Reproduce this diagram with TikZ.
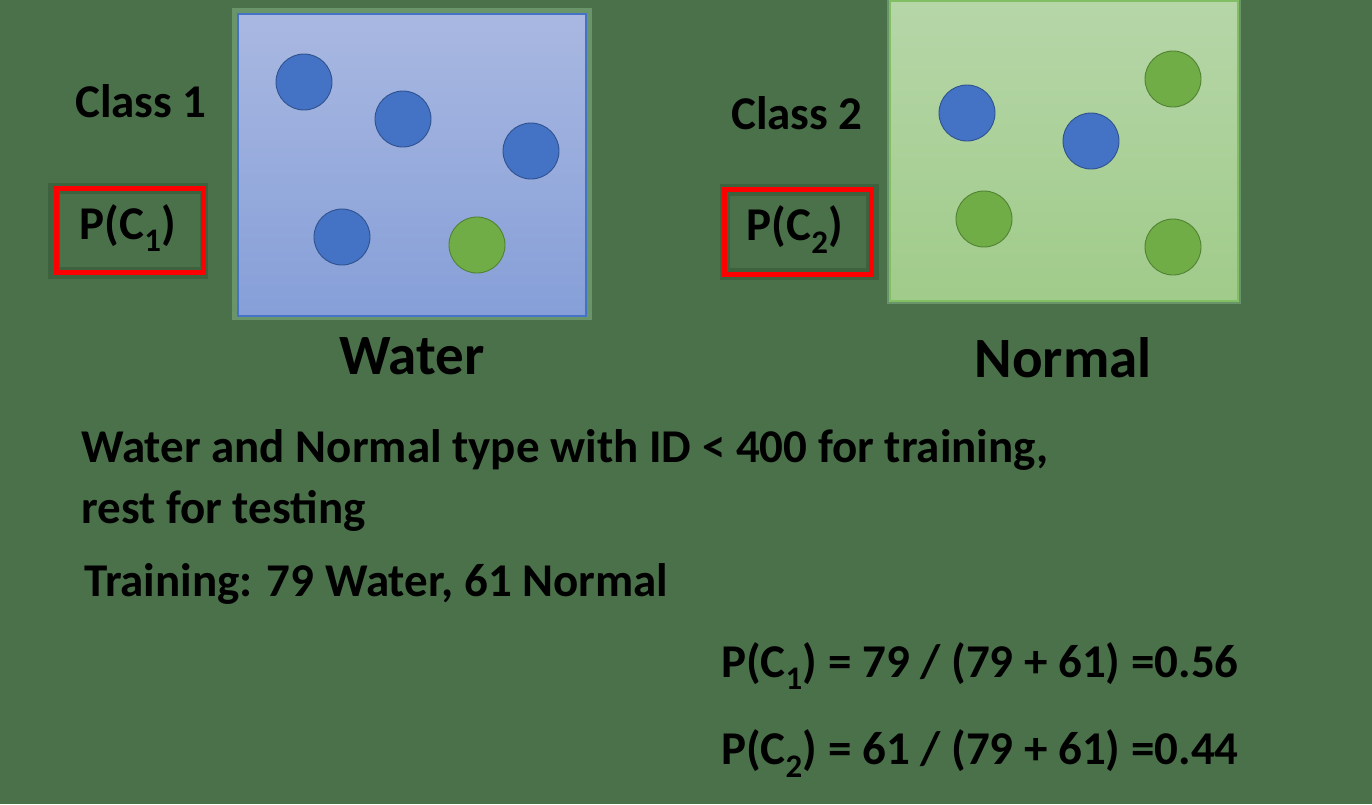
\documentclass[tikz,border=0pt]{standalone}
\usepackage{fontspec}
\setmainfont{Carlito}
\begin{document}
\begin{tikzpicture}[x=1pt,y=-1pt,
  lbl/.style={font=\bfseries\fontsize{#1}{#1}\selectfont, text=black, inner sep=0pt},
  bluedot/.style={circle, minimum size=56pt, inner sep=0pt, fill={rgb,255:red,68;green,114;blue,196}, draw={rgb,255:red,47;green,82;blue,143}, line width=0.9pt},
  greendot/.style={circle, minimum size=56pt, inner sep=0pt, fill={rgb,255:red,112;green,173;blue,71}, draw={rgb,255:red,80;green,130;blue,50}, line width=0.9pt},
  redbox/.style={draw={rgb,255:red,255;green,0;blue,0}, line width=5pt}
]
\definecolor{bg}{RGB}{75,113,75}
\definecolor{halo}{RGB}{106,148,106}
\definecolor{darkhalo}{RGB}{62,97,62}
\definecolor{wtop}{RGB}{169,184,225}
\definecolor{wbot}{RGB}{134,159,216}
\definecolor{ntop}{RGB}{182,214,168}
\definecolor{nbot}{RGB}{160,203,138}
\definecolor{wline}{RGB}{68,114,196}
\definecolor{nline}{RGB}{130,190,100}

\fill[bg] (0,0) rectangle (1372,804);
\useasboundingbox (0,0) rectangle (1372,804);

% Water box
\fill[halo] (232,8) rectangle (592,320);
\shade[top color=wtop, bottom color=wbot] (238,14) rectangle (586,316);
\draw[wline, line width=1.2pt] (238,14) rectangle (586,316);
\node[bluedot] (w1) at (304,82) {};
\node[bluedot] (w2) at (403,119) {};
\node[bluedot] (w3) at (531,151) {};
\node[bluedot] (w4) at (342,237) {};
\node[greendot] (w5) at (477,245) {};

% Normal box
\fill[halo] (887,0) rectangle (1241,304);
\shade[top color=ntop, bottom color=nbot] (890,1) rectangle (1238,301);
\draw[nline, line width=1.2pt] (890,1) rectangle (1238,301);
\node[bluedot] (n1) at (967,113) {};
\node[bluedot] (n2) at (1091,141) {};
\node[greendot] (n3) at (1173,79) {};
\node[greendot] (n4) at (984,219) {};
\node[greendot] (n5) at (1173,247) {};

% Class 1
\node[lbl=47] (c1) at (141,101) {Class 1};
\fill[darkhalo] (48,183) rectangle (208,279);
\fill[bg] (60,194) rectangle (200,267);
\draw[redbox] (56.5,188.5) rectangle (203.5,272.5);
\node[lbl=47] (p1) at (128,228) {P(C\textsubscript{1})};

% Class 2
\node[lbl=47] (c2) at (797,113) {Class 2};
\fill[darkhalo] (720,184) rectangle (879,280);
\fill[bg] (730,196) rectangle (866,268);
\draw[redbox] (724.5,189.5) rectangle (871.5,274.5);
\node[lbl=47] (p2) at (795,230) {P(C\textsubscript{2})};

% Titles
\node[lbl=57] (wt) at (412,356) {Water};
\node[lbl=57] (nt) at (1063,358) {Normal};

% Paragraph
\node[lbl=47, anchor=base west] (t1) at (81,462) {Water and Normal type with ID < 400 for training,};
\node[lbl=47, anchor=base west] (t2) at (81,523) {rest for testing};
\node[lbl=47, anchor=base west] (t3) at (84,596) {Training: 79 Water, 61 Normal};

\node[lbl=47, anchor=base west] (e1) at (721,677) {P(C\textsubscript{1}) = 79 / (79 + 61) =0.56};
\node[lbl=47, anchor=base west] (e2) at (721,764) {P(C\textsubscript{2}) = 61 / (79 + 61) =0.44};
\end{tikzpicture}
\end{document}
